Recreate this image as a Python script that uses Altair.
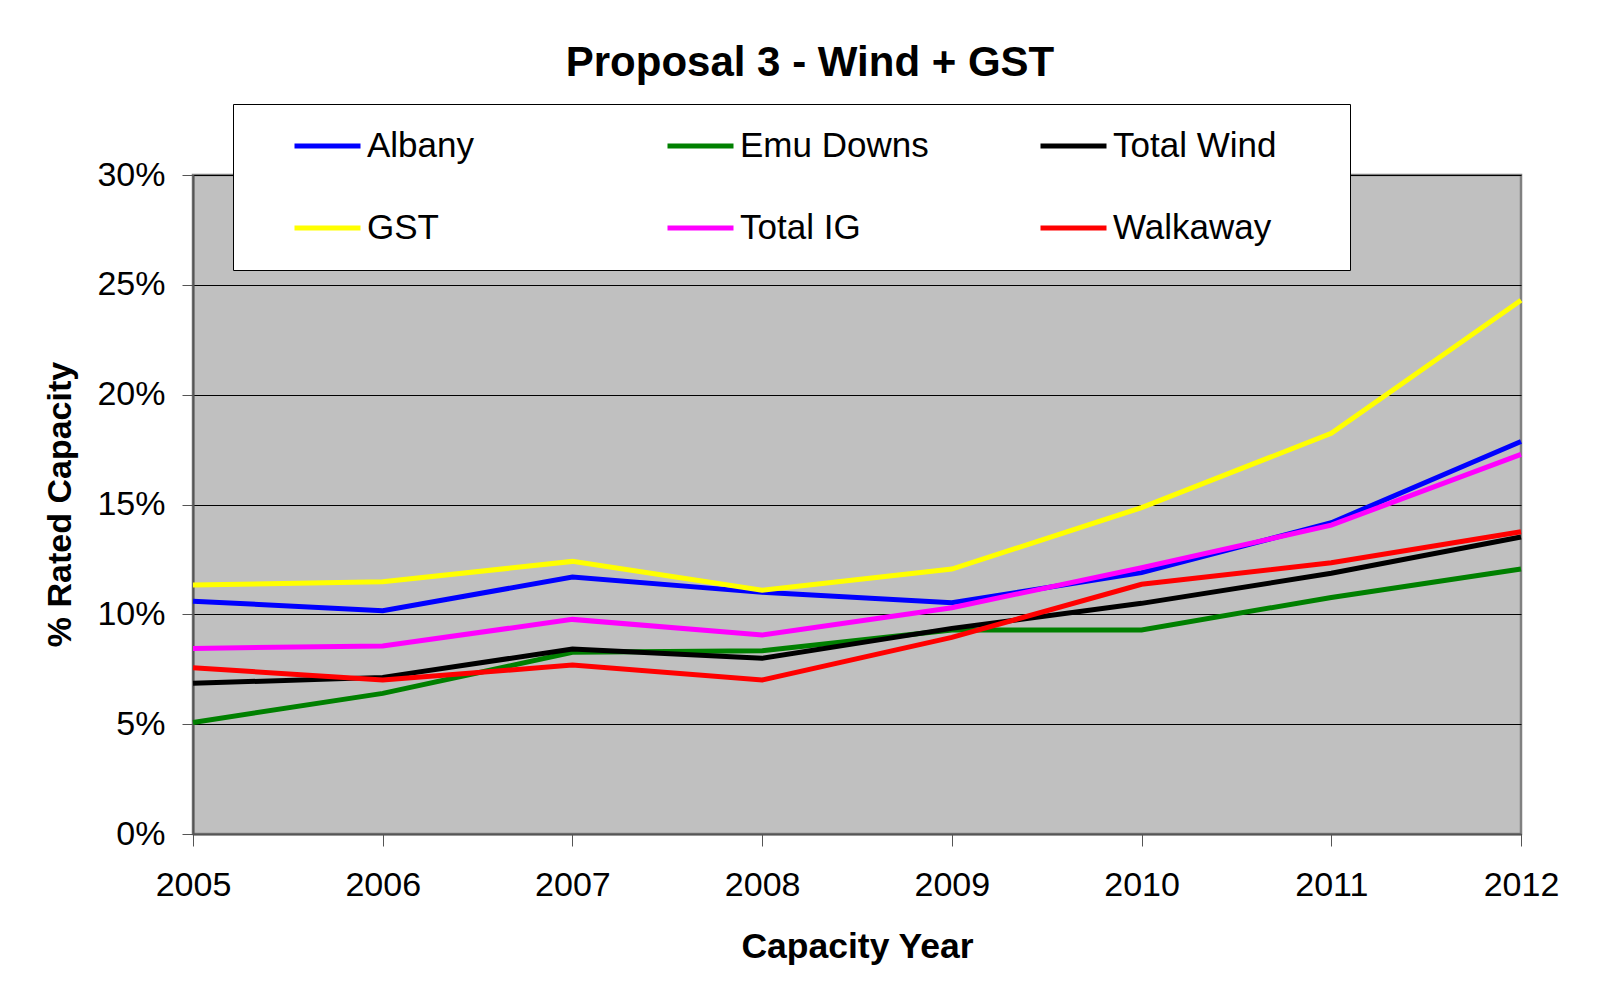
import altair as alt
import pandas as pd

years = [2005, 2006, 2007, 2008, 2009, 2010, 2011, 2012]
series_names = ["Albany", "Emu Downs", "Total Wind", "GST", "Total IG", "Walkaway"]
albany = [10.6, 10.16, 11.7, 11.0, 10.53, 11.9, 14.17, 17.87]
emu_downs = [5.08, 6.4, 8.27, 8.34, 9.29, 9.29, 10.77, 12.06]
total_wind = [6.86, 7.13, 8.42, 8.0, 9.36, 10.5, 11.87, 13.52]
gst = [11.33, 11.48, 12.41, 11.1, 12.06, 14.86, 18.24, 24.3]
total_ig = [8.45, 8.56, 9.77, 9.06, 10.3, 12.12, 14.06, 17.28]
walkaway = [7.57, 7.01, 7.69, 7.01, 8.95, 11.37, 12.35, 13.76]
colors = ["#0000FF", "#008000", "#000000", "#FFFF00", "#FF00FF", "#FF0000"]
y_ticks = [0, 0.05, 0.10, 0.15, 0.20, 0.25, 0.30]

values_by_series = [albany, emu_downs, total_wind, gst, total_ig, walkaway]
rows = []
for name, vals in zip(series_names, values_by_series):
    for yr, v in zip(years, vals):
        rows.append({"year": yr, "series": name, "value": v / 100.0})
df = pd.DataFrame(rows)

FONT = "Liberation Sans"

chart = alt.Chart(df).mark_line(strokeWidth=5).encode(
    x=alt.X(
        "year:Q",
        scale=alt.Scale(domain=[2005, 2012], nice=False, zero=False),
        axis=alt.Axis(
            values=years, format="d", title="Capacity Year", grid=False,
            labelFontSize=34, labelFont=FONT, labelColor="black", labelPadding=22,
            labelFlush=False,
            tickSize=12, tickColor="#555555", domainColor="#555555", domainWidth=2,
            titleFontSize=35.5, titleFont=FONT, titleFontWeight="bold", titleColor="black",
            titleY=112, titleBaseline="middle",
        ),
    ),
    y=alt.Y(
        "value:Q",
        scale=alt.Scale(domain=[0, 0.30], nice=False),
        axis=alt.Axis(
            values=y_ticks, format=".0%", title="% Rated Capacity",
            grid=True, gridColor="black", gridWidth=1,
            labelFontSize=34, labelFont=FONT, labelColor="black", labelPadding=17,
            tickSize=11, tickColor="#555555", domainColor="#555555", domainWidth=2,
            titleFontSize=34, titleFont=FONT, titleFontWeight="bold", titleColor="black",
            titleX=-133, titleY=329, titleBaseline="middle", titleAngle=270,
        ),
    ),
    color=alt.Color(
        "series:N",
        scale=alt.Scale(domain=series_names, range=colors),
        legend=alt.Legend(
            title=" ", titleOrient="right", titlePadding=54, titleFontSize=10,
            orient="none", legendX=40, legendY=-71,
            direction="horizontal", columns=3, gridAlign="all",
            symbolType="stroke", symbolSize=4356, symbolStrokeWidth=5,
            labelFontSize=35, labelFont=FONT, labelColor="black", labelOffset=4,
            labelLimit=400, columnPadding=70, rowPadding=38, padding=20,
            clipHeight=44,
            symbolOffset=39, strokeColor="black", fillColor="white",
        ),
    ),
).properties(
    width=1328,
    height=659,
    title=alt.TitleParams(
        "Proposal 3 - Wind + GST", fontSize=42, font=FONT, fontWeight="bold",
        color="black", anchor="middle", frame="group", dx=-47, offset=19,
    ),
    autosize=alt.AutoSizeParams(type="none"),
    padding={"left": 185, "top": 167, "right": 80, "bottom": 150},
    background="white",
).configure_view(
    fill="#C0C0C0", stroke="#808080", strokeWidth=2.5,
)

chart.save("out.html", embed_options={"renderer": "svg", "actions": False})
